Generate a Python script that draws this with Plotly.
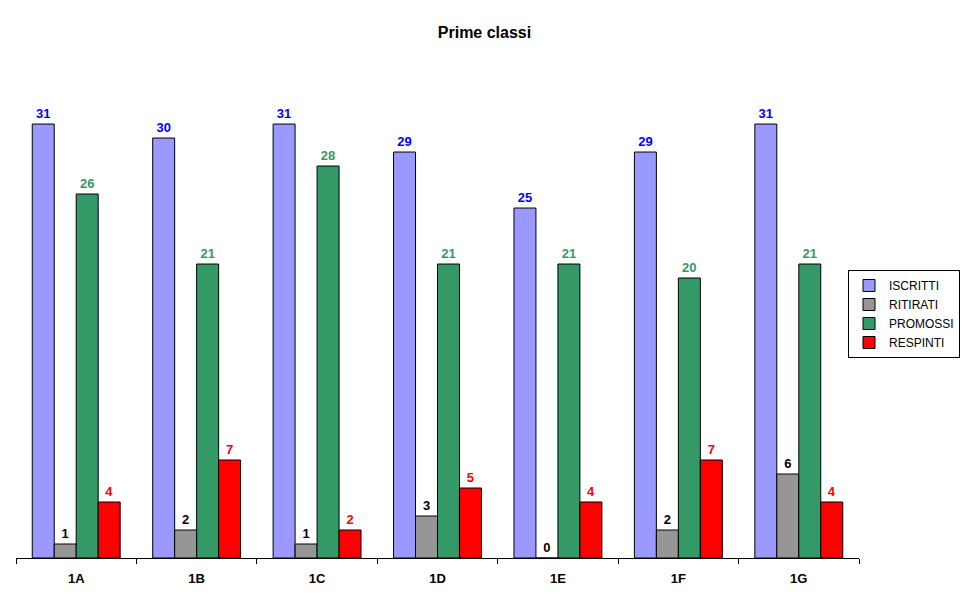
import plotly.graph_objects as go

categories = ["1A", "1B", "1C", "1D", "1E", "1F", "1G"]
iscritti = [31, 30, 31, 29, 25, 29, 31]
ritirati = [1, 2, 1, 3, 0, 2, 6]
promossi = [26, 21, 28, 21, 21, 20, 21]
respinti = [4, 7, 2, 5, 4, 7, 4]

series = [
    ("ISCRITTI", iscritti, "#9999FF", "#0000FF"),
    ("RITIRATI", ritirati, "#969696", "#000000"),
    ("PROMOSSI", promossi, "#339966", "#339966"),
    ("RESPINTI", respinti, "#FF0000", "#FF0000"),
]

fig = go.Figure()
for name, vals, col, tcol in series:
    fig.add_trace(go.Bar(
        name=name, x=categories, y=vals,
        marker=dict(color=col, line=dict(color="#000000", width=1)),
        text=[str(v) for v in vals], textposition="outside",
        textfont=dict(family="Arial, Liberation Sans", size=13, color=tcol, weight="bold"),
        cliponaxis=False,
    ))

fig.update_layout(
    width=969, height=604,
    margin=dict(l=16, r=110, t=70, b=46, autoexpand=False),
    paper_bgcolor="white", plot_bgcolor="white",
    barmode="group", bargap=0.27, bargroupgap=0,
    font=dict(family="Arial, Liberation Sans", size=12, color="black"),
    title=dict(text="<b>Prime classi</b>", x=0.5, xref="container", y=0.947, yanchor="middle",
               xanchor="center", font=dict(size=16, color="black")),
    showlegend=True,
    legend=dict(x=(960 - 16) / 843, xanchor="right", y=0.5, yanchor="middle",
                bordercolor="black", borderwidth=1, bgcolor="white",
                font=dict(size=12), itemwidth=30, tracegroupgap=0),
    xaxis=dict(showline=True, linecolor="black", linewidth=1, ticks="outside",
               tickson="boundaries", ticklen=5, tickcolor="black", ticklabelstandoff=8,
               tickfont=dict(size=13, weight="bold"), showgrid=False, fixedrange=True),
    yaxis=dict(range=[0, 34.86], visible=False, showgrid=False, zeroline=False),
)
fig.write_html("out.html")
